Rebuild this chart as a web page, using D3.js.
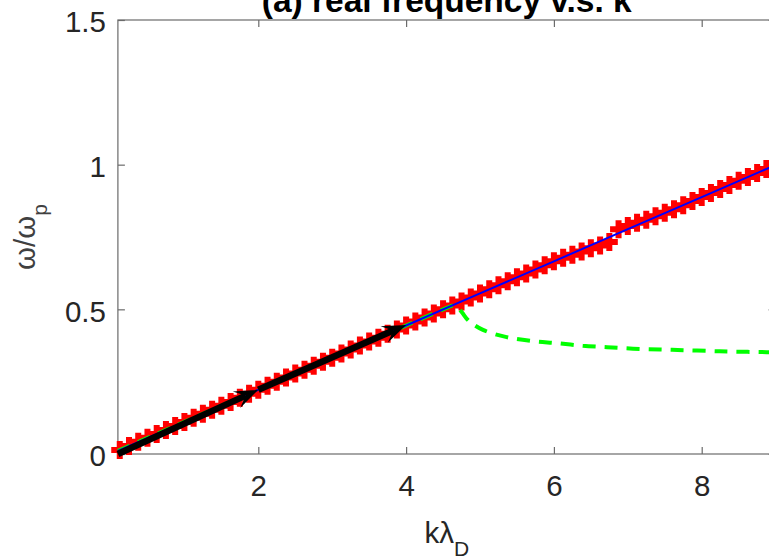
<!DOCTYPE html>
<html>
<head>
<meta charset="utf-8">
<script src="https://cdn.jsdelivr.net/npm/d3@7"></script>
<style>
  body { margin: 0; background: #fff; }
  svg { display: block; font-family: "Liberation Sans", Arial, sans-serif; }
</style>
</head>
<body>
<svg id="chart"></svg>
<script>
// simulation points (red +)
const kSim = [0.125,0.25,0.375,0.5,0.625,0.75,0.875,1.0,1.125,1.25,1.375,1.5,1.625,1.75,1.875,2.0,
  2.125,2.25,2.375,2.5,2.625,2.75,2.875,3.0,3.125,3.25,3.375,3.5,3.625,3.75,3.875,4.0,
  4.125,4.25,4.375,4.5,4.625,4.75,4.875,5.0,5.125,5.25,5.375,5.5,5.625,5.75,5.875,6.0,
  6.125,6.25,6.375,6.5,6.625,6.75,6.875,7.0,7.125,7.25,7.375,7.5,7.625,7.75,7.875,8.0,
  8.125,8.25,8.375,8.5,8.625,8.75,8.875,9.0];
const wSim = [0.014,0.028,0.042,0.056,0.069,0.083,0.097,0.111,0.125,0.139,0.153,0.167,0.180,0.194,0.208,0.222,
  0.236,0.250,0.264,0.278,0.291,0.305,0.319,0.333,0.347,0.361,0.375,0.389,0.402,0.416,0.430,0.444,
  0.458,0.472,0.486,0.500,0.513,0.527,0.541,0.555,0.569,0.583,0.597,0.611,0.624,0.638,0.652,0.666,
  0.678,0.689,0.700,0.711,0.721,0.733,0.777,0.788,0.799,0.810,0.822,0.834,0.846,0.860,0.874,0.888,
  0.902,0.916,0.930,0.944,0.957,0.971,0.985,0.999];

// theory branch (blue solid)
const kBlue = [0.1, 1, 2, 3, 4, 5, 6, 7, 8, 9];
const wBlue = [0.011, 0.111, 0.222, 0.333, 0.444, 0.555, 0.666, 0.777, 0.888, 0.999];

// second root (green dashed)
const kGreen = [0.1, 2, 4, 4.55, 4.64, 4.70, 4.76, 4.84, 5.04, 5.36, 5.72, 6.04, 6.39, 6.72, 7.07, 7.44, 7.75, 8.11, 8.43, 8.88, 9.0];
const wGreen = [0.011, 0.222, 0.444, 0.505, 0.513, 0.506, 0.488, 0.462, 0.429, 0.404, 0.390, 0.383, 0.374, 0.369, 0.364, 0.361, 0.359, 0.356, 0.354, 0.352, 0.352];

// group velocity arrows (black)
const arrowFrom = [[0.1, 0.0], [2.0, 0.222]];
const arrowTo   = [[2.0, 0.222], [4.0, 0.446]];

const xTicks = [2, 4, 6, 8];
const yTicks = [0, 0.5, 1, 1.5];

const W = 769, H = 560;
const margin = {top: 20, right: -6.6, bottom: 106, left: 117.9};

const svg = d3.select('#chart').attr('width', W).attr('height', H);

const x = d3.scaleLinear().domain([0.1, 9]).range([margin.left, W - margin.right]);
const y = d3.scaleLinear().domain([0, 1.5]).range([H - margin.bottom, margin.top]);

const axisColor = '#6b6b6b';
const textColor = '#262626';

// box
svg.append('rect')
  .attr('x', x.range()[0]).attr('y', y.range()[1])
  .attr('width', x.range()[1] - x.range()[0])
  .attr('height', y.range()[0] - y.range()[1])
  .attr('fill', 'none').attr('stroke', axisColor).attr('stroke-width', 1.2);

function styleAxis(g, showText) {
  g.select('.domain').remove();
  g.selectAll('line').attr('stroke', axisColor).attr('stroke-width', 1.2);
  g.selectAll('text')
    .attr('fill', textColor)
    .style('font-size', '29.5px')
    .style('display', showText ? null : 'none');
}

svg.append('g')
  .attr('transform', `translate(0,${y.range()[0]})`)
  .call(d3.axisBottom(x).tickValues(xTicks).tickSizeInner(-7).tickSizeOuter(0).tickPadding(21))
  .call(g => styleAxis(g, true));

svg.append('g')
  .attr('transform', `translate(0,${y.range()[1]})`)
  .call(d3.axisTop(x).tickValues(xTicks).tickSizeInner(-7).tickSizeOuter(0).tickFormat(''))
  .call(g => styleAxis(g, false));

svg.append('g')
  .attr('transform', `translate(${x.range()[0]},0)`)
  .call(d3.axisLeft(y).tickValues(yTicks).tickSizeInner(-7).tickSizeOuter(0).tickPadding(12).tickFormat(d3.format('')))
  .call(g => styleAxis(g, true))
  .call(g => g.selectAll('text').attr('dy', '0.4em'));

svg.append('g')
  .attr('transform', `translate(${x.range()[1]},0)`)
  .call(d3.axisRight(y).tickValues(yTicks).tickSizeInner(-7).tickSizeOuter(0).tickFormat(''))
  .call(g => styleAxis(g, false));

// plot area clip
svg.append('clipPath').attr('id', 'clip')
  .append('rect')
  .attr('x', x.range()[0] - 14).attr('y', y.range()[1])
  .attr('width', x.range()[1] - x.range()[0] + 14)
  .attr('height', y.range()[0] - y.range()[1] + 12);

const plot = svg.append('g').attr('clip-path', 'url(#clip)');

// red + markers
const simData = kSim.map((k, i) => ({k: k, w: wSim[i]}));
plot.selectAll('path.sim')
  .data(simData)
  .join('path')
  .attr('class', 'sim')
  .attr('transform', d => `translate(${x(d.k)},${y(d.w)})`)
  .attr('d', 'M-8.5,0H8.5M0,-9V9')
  .attr('stroke', '#ff0000')
  .attr('stroke-width', 6)
  .attr('fill', 'none');

// green dashed
const greenData = kGreen.map((k, i) => ({k: k, w: wGreen[i]}));
plot.append('path')
  .datum(greenData)
  .attr('d', d3.line().x(d => x(d.k)).y(d => y(d.w)).curve(d3.curveCatmullRom))
  .attr('fill', 'none')
  .attr('stroke', '#00ff00')
  .attr('stroke-width', 4)
  .attr('stroke-dasharray', '13,9');

// blue solid
const blueData = kBlue.map((k, i) => ({k: k, w: wBlue[i]}));
plot.append('path')
  .datum(blueData)
  .attr('d', d3.line().x(d => x(d.k)).y(d => y(d.w)))
  .attr('fill', 'none')
  .attr('stroke', '#0000ff')
  .attr('stroke-width', 2);

// black arrows
arrowFrom.forEach((p0, i) => {
  const p1 = arrowTo[i];
  const x0 = x(p0[0]), y0 = y(p0[1]), x1 = x(p1[0]), y1 = y(p1[1]);
  const len = Math.hypot(x1 - x0, y1 - y0);
  const ux = (x1 - x0) / len, uy = (y1 - y0) / len;
  const nx = -uy, ny = ux;
  const hl = 24, hw = 9, notch = 14;
  plot.append('line')
    .attr('x1', x0).attr('y1', y0)
    .attr('x2', x1 - ux * notch).attr('y2', y1 - uy * notch)
    .attr('stroke', '#000').attr('stroke-width', 6.5);
  const head = [
    [x1, y1],
    [x1 - ux * hl + nx * hw, y1 - uy * hl + ny * hw],
    [x1 - ux * notch, y1 - uy * notch],
    [x1 - ux * hl - nx * hw, y1 - uy * hl - ny * hw]
  ];
  plot.append('path')
    .attr('d', 'M' + head.map(p => p.join(',')).join('L') + 'Z')
    .attr('fill', '#000');
});

// title
svg.append('text')
  .attr('x', (x.range()[0] + x.range()[1]) / 2)
  .attr('y', 12)
  .attr('text-anchor', 'middle')
  .style('font-size', '33.5px')
  .style('font-weight', 'bold')
  .attr('fill', '#000')
  .text('(a) real frequency v.s. k');

// x label
const xl = svg.append('text')
  .attr('x', (x.range()[0] + x.range()[1]) / 2)
  .attr('y', 543)
  .attr('text-anchor', 'middle')
  .attr('fill', textColor)
  .style('font-size', '29.5px');
xl.append('tspan').text('kλ');
xl.append('tspan').attr('dy', 13).style('font-size', '21px').text('D');

// y label
const yl = svg.append('text')
  .attr('transform', `translate(35,${(y.range()[0] + y.range()[1]) / 2}) rotate(-90)`)
  .attr('text-anchor', 'middle')
  .attr('fill', '#404040')
  .style('font-size', '29.5px');
yl.append('tspan').text('ω/ω');
yl.append('tspan').attr('dy', 12).style('font-size', '21px').text('p');
</script>
</body>
</html>
